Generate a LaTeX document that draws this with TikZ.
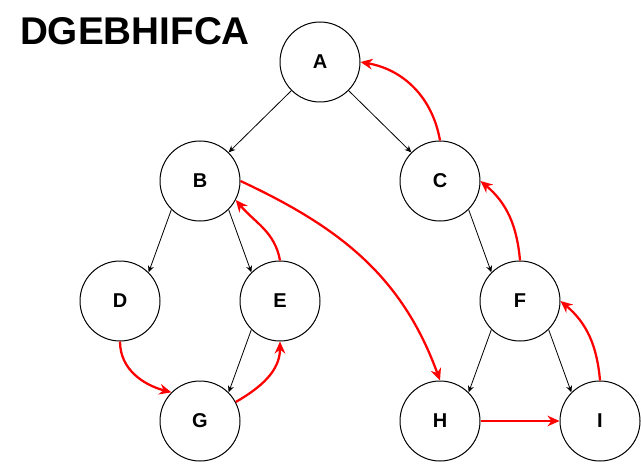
\documentclass[tikz,border=0pt]{standalone}
\usepackage{fontspec}
\setmainfont{Liberation Sans}
\usetikzlibrary{arrows.meta}
\tikzstyle{vertex}=[circle,draw=black,line width=0.75pt,minimum size=60pt,inner sep=0pt,font=\bfseries\fontsize{15}{18}\selectfont]
\tikzstyle{tree}=[draw=black,line width=0.6pt,-{Stealth[length=5pt,width=4.5pt]}]
\tikzstyle{order}=[draw=red,line width=1.7pt,-{Stealth[length=9pt,width=8pt]}]

\begin{document}
\begin{tikzpicture}[x=0.75pt,y=-0.75pt]
  \useasboundingbox (0,0) rectangle (641,463);
  \node (title) at (135,31) {\bfseries\fontsize{29}{32}\selectfont DGEBHIFCA};
  % tree nodes
  \node[vertex] (A) at (320,62)  {A};
  \node[vertex] (B) at (200,181) {B};
  \node[vertex] (C) at (440,181) {C};
  \node[vertex] (D) at (120,301) {D};
  \node[vertex] (E) at (280,301) {E};
  \node[vertex] (F) at (520,301) {F};
  \node[vertex] (G) at (200,421) {G};
  \node[vertex] (H) at (440,421) {H};
  \node[vertex] (I) at (600,421) {I};
  % edges
  \draw[tree] (A.-135) -- (B.45);
  \draw[tree] (A.-45) -- (C.135);
  \draw[tree] (B.-135) -- (D.45);
  \draw[tree] (B.-45) -- (E.135);
  \draw[tree] (E.-135) -- (G.45);
  \draw[tree] (C.-45) -- (F.135);
  \draw[tree] (F.-135) -- (H.45);
  \draw[tree] (F.-45) -- (I.135);
  % traversal
  \draw[order] (D.south) to[out=-90,in=165] (G.135);
  \draw[order] (G.28) to[out=30,in=-90] (E.south);
  \draw[order] (E.north) to[out=100,in=-50] (B.-28);
  \draw[order] (B.east) to[out=-25,in=110] (H.north);
  \draw[order] (H.east) -- (I.west);
  \draw[order] (I.north) to[out=95,in=-40] (F.east);
  \draw[order] (F.north) to[out=95,in=-40] (C.east);
  \draw[order] (C.north) to[out=100,in=-10] (A.east);
\end{tikzpicture}
\end{document}
